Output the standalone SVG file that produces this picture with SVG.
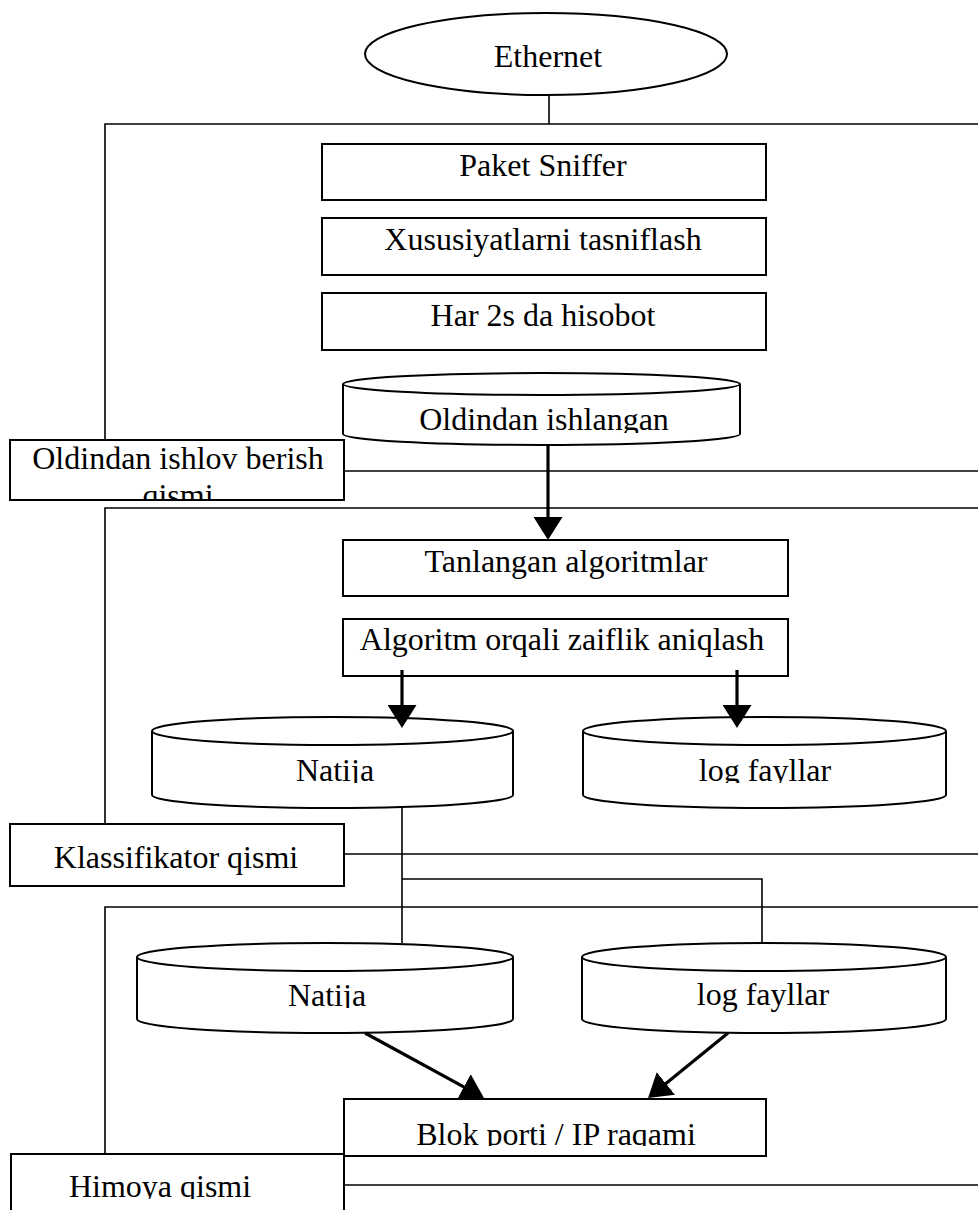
<svg xmlns="http://www.w3.org/2000/svg" width="978" height="1210" viewBox="0 0 978 1210">
<style>
.bg{fill:#ffffff}
.frame{fill:none;stroke:#000;stroke-width:1.6}
.box{fill:#ffffff;stroke:#000;stroke-width:2}
.cyl{fill:#ffffff;stroke:#000;stroke-width:2}
.t{font-family:"Liberation Serif","Times New Roman",serif;font-size:32px;fill:#000;text-anchor:middle}
.thin{fill:none;stroke:#000;stroke-width:1.6}
.arrow{fill:none;stroke:#000;stroke-width:3.2;marker-end:url(#ah)}
</style>
<defs>
<marker id="ah" viewBox="0 0 23 29" refX="13" refY="14.5" markerWidth="23" markerHeight="29" markerUnits="userSpaceOnUse" orient="auto">
<path d="M0,0 L23,14.5 L0,29 Z" fill="#000"/>
</marker>
<clipPath id="c-old"><rect x="10" y="440" width="334" height="59"/></clipPath>
<clipPath id="c-him"><rect x="10" y="1154" width="334" height="45"/></clipPath>
<clipPath id="c-blok"><rect x="344" y="1099" width="422" height="47"/></clipPath>
<clipPath id="c-oi"><rect x="343" y="390" width="397" height="43"/></clipPath>
<clipPath id="c-n1"><rect x="152" y="745" width="361" height="38"/></clipPath>
<clipPath id="c-l1"><rect x="583" y="745" width="363" height="38"/></clipPath>
<clipPath id="c-n2"><rect x="137" y="971" width="376" height="37"/></clipPath>
</defs>
<rect class="bg" x="0" y="0" width="978" height="1210"/>

<g id="sections">
  <g id="section-1"><path class="frame" d="M105,440 L105,124 L978,124"/><line class="frame" x1="344" y1="471" x2="978" y2="471"/></g>
  <g id="section-2"><path class="frame" d="M105,824 L105,508 L978,508"/><line class="frame" x1="344" y1="854" x2="978" y2="854"/></g>
  <g id="section-3"><path class="frame" d="M105,1154 L105,907 L978,907"/><line class="frame" x1="344" y1="1185" x2="978" y2="1185"/></g>
</g>

<g id="connectors">
  <line class="thin" x1="549" y1="95" x2="549" y2="124"/>
  <line class="thin" x1="402" y1="808" x2="402" y2="943"/>
  <path class="thin" d="M402,879 L762,879 L762,943"/>
</g>

<g id="ethernet">
  <ellipse class="box" cx="546" cy="54" rx="181" ry="41"/>
  <text class="t" x="548" y="67">Ethernet</text>
</g>

<g id="paket-sniffer">
  <rect class="box" x="322" y="144" width="444" height="56"/>
  <text class="t" x="543" y="176">Paket Sniffer</text>
</g>
<g id="xususiyatlar">
  <rect class="box" x="322" y="218" width="444" height="57"/>
  <text class="t" x="543" y="250">Xususiyatlarni tasniflash</text>
</g>
<g id="hisobot">
  <rect class="box" x="322" y="293" width="444" height="57"/>
  <text class="t" x="543" y="326">Har 2s da hisobot</text>
</g>
<g id="oldindan-ishlangan">
  <path class="cyl" d="M343,384 L343,434 A198.5,11 0 0 0 740,434 L740,384"/>
  <ellipse class="cyl" cx="541.5" cy="384" rx="198.5" ry="11"/>
  <text class="t" x="544" y="430" clip-path="url(#c-oi)">Oldindan ishlangan</text>
</g>
<g id="label-oldindan">
  <rect class="box" x="10" y="440" width="334" height="60"/>
  <g clip-path="url(#c-old)">
    <text class="t" x="178" y="469">Oldindan ishlov berish</text>
    <text class="t" x="178" y="506">qismi</text>
  </g>
</g>

<g id="tanlangan">
  <rect class="box" x="343" y="540" width="445" height="56"/>
  <text class="t" x="566" y="572">Tanlangan algoritmlar</text>
</g>
<g id="algoritm">
  <rect class="box" x="343" y="619" width="445" height="57"/>
  <text class="t" x="562" y="650">Algoritm orqali zaiflik aniqlash</text>
</g>
<g id="natija-1">
  <path class="cyl" d="M152,731 L152,795 A180.5,13 0 0 0 513,795 L513,731"/>
  <ellipse class="cyl" cx="332.5" cy="731" rx="180.5" ry="14"/>
  <text class="t" x="335" y="781" clip-path="url(#c-n1)">Natija</text>
</g>
<g id="log-1">
  <path class="cyl" d="M583,731 L583,795 A181.5,13 0 0 0 946,795 L946,731"/>
  <ellipse class="cyl" cx="764.5" cy="731" rx="181.5" ry="14"/>
  <text class="t" x="765" y="781" clip-path="url(#c-l1)">log fayllar</text>
</g>
<g id="label-klassifikator">
  <rect class="box" x="10" y="824" width="334" height="62"/>
  <text class="t" x="176" y="868">Klassifikator qismi</text>
</g>

<g id="natija-2">
  <path class="cyl" d="M137,957 L137,1019 A188,14 0 0 0 513,1019 L513,957"/>
  <ellipse class="cyl" cx="325" cy="957" rx="188" ry="14"/>
  <text class="t" x="327" y="1006" clip-path="url(#c-n2)">Natija</text>
</g>
<g id="log-2">
  <path class="cyl" d="M582,957 L582,1019 A182,14 0 0 0 946,1019 L946,957"/>
  <ellipse class="cyl" cx="764" cy="957" rx="182" ry="14"/>
  <text class="t" x="763" y="1005">log fayllar</text>
</g>
<g id="blok">
  <rect class="box" x="344" y="1099" width="422" height="57"/>
  <text class="t" x="556" y="1145" clip-path="url(#c-blok)">Blok porti / IP raqami</text>
</g>
<g id="label-himoya">
  <rect class="box" x="11" y="1154" width="333" height="70"/>
  <text class="t" x="160" y="1197" clip-path="url(#c-him)">Himoya qismi</text>
</g>

<g id="arrows">
  <line class="arrow" x1="548" y1="445" x2="548" y2="530"/>
  <line class="arrow" x1="402" y1="670" x2="402" y2="718"/>
  <line class="arrow" x1="737" y1="670" x2="737" y2="718"/>
  <line class="arrow" x1="365" y1="1033" x2="475.2" y2="1093.2"/>
  <line class="arrow" x1="728" y1="1033" x2="655.8" y2="1091.7"/>
</g>
</svg>
